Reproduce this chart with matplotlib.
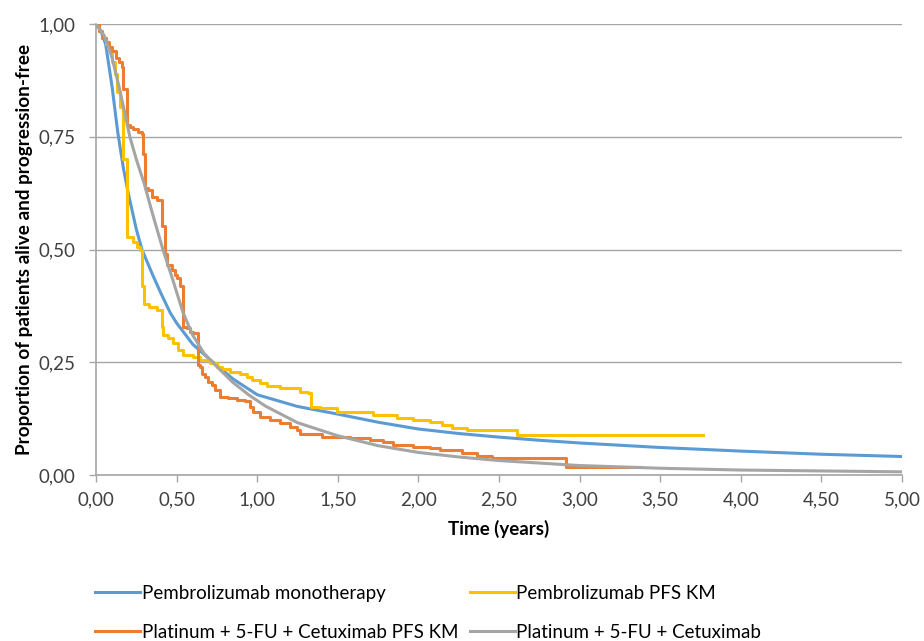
import matplotlib
matplotlib.use("Agg")
import matplotlib.pyplot as plt

# parametric curves
t_pembro = [0, 0.03, 0.06, 0.1, 0.135, 0.17, 0.2, 0.25, 0.285, 0.35, 0.4, 0.46, 0.5, 0.6, 0.7,
            0.75, 0.85, 1.0, 1.25, 1.5, 1.75, 2.0, 2.25, 2.5, 2.75, 3.0, 3.5, 4.0, 4.5, 5.0]
s_pembro = [1.0, 0.985, 0.955, 0.86, 0.76, 0.68, 0.625, 0.545, 0.50, 0.445, 0.405, 0.36, 0.337, 0.29, 0.258,
            0.243, 0.213, 0.178, 0.152, 0.135, 0.117, 0.102, 0.092, 0.084, 0.077, 0.071, 0.061, 0.053, 0.046, 0.041]

t_cetux = [0, 0.05, 0.1, 0.15, 0.21, 0.25, 0.3, 0.35, 0.415, 0.47, 0.54, 0.6, 0.67, 0.75, 0.85, 0.95,
           1.05, 1.25, 1.5, 1.75, 2.0, 2.25, 2.5, 3.0, 3.5, 4.0, 4.5, 5.0]
s_cetux = [1.0, 0.975, 0.925, 0.85, 0.75, 0.70, 0.645, 0.58, 0.50, 0.44, 0.36, 0.31, 0.27, 0.24, 0.205, 0.177,
           0.153, 0.116, 0.087, 0.065, 0.05, 0.04, 0.032, 0.021, 0.015, 0.011, 0.009, 0.007]

# Kaplan-Meier steps (time, survival after step)
t_pembro_km = [0, 0.02, 0.04, 0.06, 0.077, 0.097, 0.118, 0.128, 0.149, 0.17, 0.19, 0.232, 0.252, 0.27,
               0.284, 0.30, 0.33, 0.376, 0.407, 0.418, 0.449, 0.48, 0.511, 0.542, 0.604, 0.645, 0.707,
               0.749, 0.78, 0.831, 0.893, 0.935, 0.97, 1.017, 1.06, 1.141, 1.266, 1.317, 1.332, 1.39,
               1.493, 1.72, 1.865, 1.969, 2.075, 2.144, 2.207, 2.30, 2.61, 3.767]
s_pembro_km = [1.0, 0.985, 0.97, 0.955, 0.945, 0.915, 0.89, 0.85, 0.815, 0.70, 0.527, 0.517, 0.506, 0.499,
               0.42, 0.38, 0.373, 0.366, 0.329, 0.31, 0.303, 0.292, 0.277, 0.266, 0.262, 0.255, 0.248,
               0.240, 0.235, 0.229, 0.225, 0.218, 0.210, 0.203, 0.198, 0.192, 0.185, 0.181, 0.151, 0.148,
               0.140, 0.133, 0.127, 0.122, 0.118, 0.111, 0.105, 0.100, 0.089, 0.089]

t_cetux_km = [0, 0.02, 0.04, 0.06, 0.08, 0.10, 0.125, 0.14, 0.159, 0.17, 0.19, 0.21, 0.232, 0.263, 0.284,
              0.292, 0.304, 0.325, 0.346, 0.376, 0.407, 0.428, 0.44, 0.469, 0.49, 0.50, 0.521, 0.542,
              0.562, 0.583, 0.604, 0.635, 0.645, 0.656, 0.676, 0.697, 0.718, 0.738, 0.769, 0.821, 0.873,
              0.924, 0.955, 0.976, 1.017, 1.079, 1.141, 1.203, 1.245, 1.266, 1.40, 1.576, 1.70, 1.782,
              1.845, 1.969, 2.072, 2.134, 2.268, 2.362, 2.455, 2.916, 3.375]
s_cetux_km = [1.0, 0.985, 0.97, 0.96, 0.95, 0.94, 0.925, 0.915, 0.905, 0.855, 0.776, 0.772, 0.768, 0.761,
              0.757, 0.712, 0.636, 0.632, 0.617, 0.610, 0.551, 0.49, 0.466, 0.455, 0.443, 0.436, 0.418,
              0.329, 0.325, 0.318, 0.314, 0.244, 0.240, 0.225, 0.218, 0.207, 0.200, 0.188, 0.174, 0.170,
              0.166, 0.163, 0.151, 0.140, 0.129, 0.122, 0.115, 0.107, 0.100, 0.092, 0.085, 0.081, 0.078,
              0.074, 0.067, 0.063, 0.059, 0.055, 0.048, 0.042, 0.037, 0.017, 0.017]

xticks = [0, 0.5, 1, 1.5, 2, 2.5, 3, 3.5, 4, 4.5, 5]
xtick_labels = ["0,00", "0,50", "1,00", "1,50", "2,00", "2,50", "3,00", "3,50", "4,00", "4,50", "5,00"]
yticks = [0, 0.25, 0.5, 0.75, 1.0]
ytick_labels = ["0,00", "0,25", "0,50", "0,75", "1,00"]

plt.rcParams['font.family'] = ['Lato', 'DejaVu Sans']
fs = 13.5

fig = plt.figure(figsize=(9.24, 6.41), dpi=100)
ax = fig.add_axes([96/924, 1 - 475/641, 806/924, 451/641])

lw = 2.2
l_blue, = ax.plot(t_pembro, s_pembro, color='#5B9BD5', lw=lw, label='Pembrolizumab monotherapy', zorder=3)
l_yel, = ax.plot(t_pembro_km, s_pembro_km, color='#FFC000', lw=lw, drawstyle='steps-post',
                 label='Pembrolizumab PFS KM', zorder=4)
l_org, = ax.plot(t_cetux_km, s_cetux_km, color='#ED7D31', lw=lw, drawstyle='steps-post',
                 label='Platinum + 5-FU + Cetuximab PFS KM', zorder=4)
l_gray, = ax.plot(t_cetux, s_cetux, color='#A5A5A5', lw=lw, label='Platinum + 5-FU + Cetuximab', zorder=5)

ax.set_xlim(0, 5)
ax.set_ylim(0, 1)
ax.set_xticks(xticks)
ax.set_xticklabels(xtick_labels, fontsize=fs, color='#404040')
ax.set_yticks(yticks)
ax.set_yticklabels(ytick_labels, fontsize=fs, color='#404040')
ax.tick_params(axis='both', direction='out', length=5, color='#A6A6A6', width=1)
ax.tick_params(axis='x', pad=7)
ax.tick_params(axis='y', pad=10)

for side in ['top', 'right']:
    ax.spines[side].set_visible(False)
for side in ['left', 'bottom']:
    ax.spines[side].set_color('#A6A6A6')
    ax.spines[side].set_linewidth(1.2)

ax.yaxis.grid(True, color='#A6A6A6', lw=1)
ax.set_axisbelow(True)

ax.set_xlabel('Time (years)', fontsize=fs, fontweight='bold', labelpad=8)
ax.set_ylabel('Proportion of patients alive and progression-free', fontsize=13.6, fontweight='bold', labelpad=4)

fig.legend(handles=[l_blue, l_org, l_yel, l_gray], ncol=2, frameon=False, fontsize=fs,
           loc='upper left', bbox_to_anchor=(95/924, 1 - 585/641), borderpad=0, borderaxespad=0,
           handlelength=2.4, handletextpad=0.1, columnspacing=0.6, labelspacing=1.17)

fig.savefig('out.png', dpi=100)
